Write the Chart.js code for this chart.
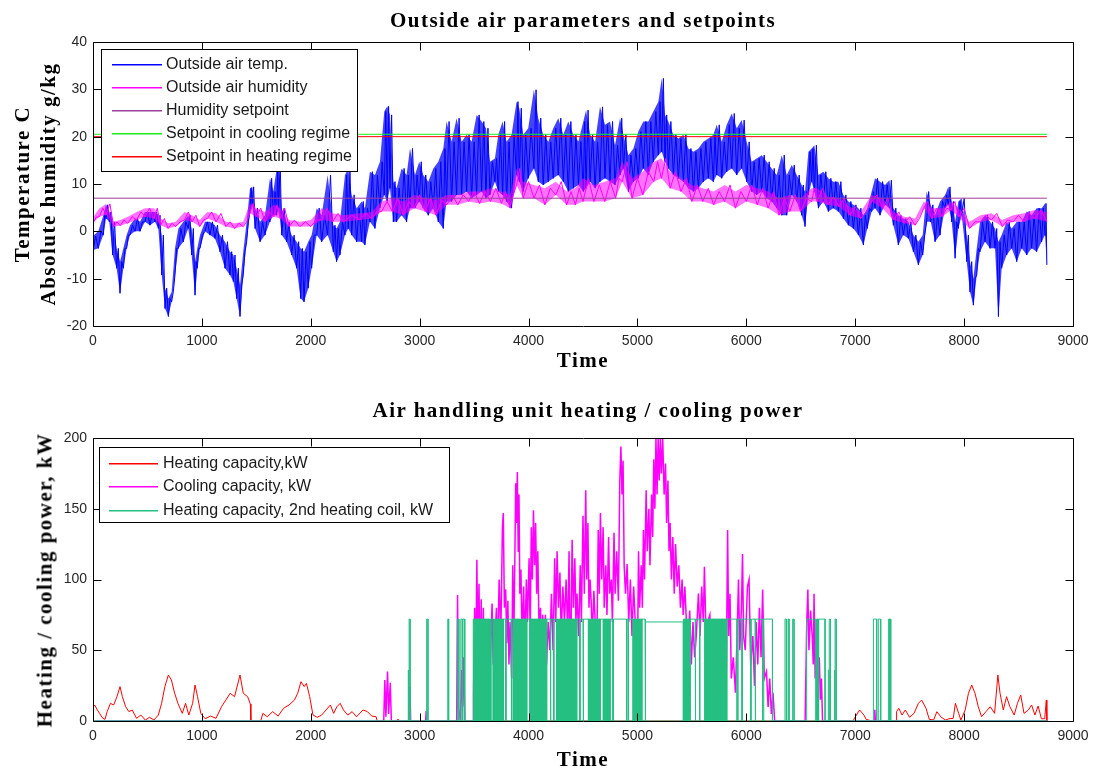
<!DOCTYPE html>
<html>
<head>
<meta charset="utf-8">
<script src="https://cdn.jsdelivr.net/npm/chart.js@4.4.0/dist/chart.umd.min.js"></script>
<style>
  html, body { margin: 0; padding: 0; background: #fff; }
  #wrap { position: relative; width: 1098px; height: 772px; background: #fff; overflow: hidden; }
  canvas { position: absolute; left: 0; }
  .t { position: absolute; transform: translate(-50%, -50%); font: bold 21px "Liberation Serif", "Times New Roman", serif;
       letter-spacing: 1.5px; white-space: nowrap; color: #000; line-height: 1; }
  .r { transform: translate(-50%, -50%) rotate(-90deg); }
</style>
</head>
<body>
<div id="wrap">
  <canvas id="c1" width="1098" height="386" style="top:0"></canvas>
  <canvas id="c2" width="1098" height="386" style="top:386px"></canvas>
  <div class="t" style="left:583px;top:20px">Outside air parameters and setpoints</div>
  <div class="t" style="left:583px;top:360px">Time</div>
  <div class="t r" style="left:22px;top:184px">Temperature C</div>
  <div class="t r" style="left:48px;top:184px">Absolute humidity g/kg</div>
  <div class="t" style="left:588px;top:410px">Air handling unit heating / cooling power</div>
  <div class="t" style="left:583px;top:759px">Time</div>
  <div class="t r" style="left:45px;top:580px">Heating / cooling power, kW</div>
</div>
<script>
// ---------------- tick labels ----------------
const xTickValues = [0,1000,2000,3000,4000,5000,6000,7000,8000,9000];
const yTicksTop = [-20,-10,0,10,20,30,40];
const yTicksBottom = [0,50,100,150,200];

// ---------------- top chart: outside air temperature (low / high read per time window) ----------------
const tempTime = [
  0,49,95,120,150,180,217,248,279,309,
  340,386,432,477,523,569,600,631,661,692,
  722,753,784,830,875,906,937,958,983,1028,
  1074,1120,1166,1212,1258,1289,1319,1350,1380,1411,
  1442,1463,1488,1534,1580,1625,1656,1687,1705,1733,
  1778,1824,1870,1907,1938,1977,2008,2054,2100,2155,
  2207,2237,2268,2314,2344,2375,2421,2467,2497,2543,
  2589,2635,2675,2702,2727,2758,2788,2834,2880,2911,
  2957,2996,3033,3079,3125,3171,3217,3247,3293,3339,
  3385,3431,3477,3523,3569,3609,3645,3691,3722,3762,
  3798,3844,3890,3915,3951,3997,4049,4089,4135,4181,
  4227,4273,4319,4365,4412,4458,4503,4528,4565,4611,
  4656,4702,4748,4794,4840,4871,4917,4963,5008,5054,
  5100,5146,5192,5223,5253,5284,5330,5376,5422,5468,
  5514,5560,5605,5651,5697,5728,5774,5820,5866,5912,
  5957,6003,6049,6095,6141,6187,6233,6279,6325,6371,
  6417,6463,6508,6539,6570,6600,6625,6662,6707,6753,
  6799,6845,6891,6937,6983,7029,7075,7111,7151,7182,
  7228,7274,7314,7350,7396,7442,7488,7534,7580,7620,
  7656,7693,7733,7779,7825,7855,7886,7917,7947,7978,
  8024,8054,8085,8116,8146,8192,8238,8284,8315,8345,
  8391,8437,8483,8529,8575,8620,8666,8712,8743,8760
];
const tempLow = [
  -4,-3.6,-0.8,2.7,2,-5,-7.8,-13.1,-7.8,-3.6,
  -0.8,0,0,2,1.3,2,0.6,-9.2,-16.3,-18,
  -14.9,-9.2,-3.6,-2.2,0.6,-5,-13.5,-7.8,-3.6,0,
  -0.8,-1.5,-4.3,-7.8,-9.2,-10.6,-14.2,-18,-9.2,-2.2,
  4.2,5.6,0.6,-2.2,-0.8,2,3.4,3.4,4.9,-0.8,
  -2.2,-5,-7.8,-14.2,-14.9,-12,-7.8,-0.8,-2.2,-0.8,
  -4.3,-6.4,-5,-0.8,0.6,-0.8,-2.2,-2.2,-2.9,2,
  0.6,4.9,7.7,6.3,9.1,2,2,3.4,2,4.9,
  4.9,6.3,4.9,3.4,4.9,2,0.6,6.3,6.3,7.7,
  7.7,8.4,7,7.7,8.4,7,7.7,10.5,8.4,7.7,
  6.3,4.9,11.9,10.5,8.4,11.2,13.3,10.5,9.8,10.5,
  11.2,11.9,10.5,8.4,9.1,9.8,8.4,9.1,10.5,9.1,
  10.5,11.2,10.5,9.8,11.9,13.3,8.4,10.5,11.2,13.3,
  11.9,14.7,16.1,16.8,14.7,13.3,11.9,11.2,10.5,9.1,
  8.4,9.1,10.5,11.2,10.5,11.9,11.2,12.6,13.3,11.9,
  13.3,10.5,8.4,7.7,8.4,7,6.3,4.9,3.4,3.4,
  7.7,6.3,3.4,1,7.7,10.5,8.4,4.9,6.3,4.2,
  4.9,4.2,2.7,1.3,0.6,-0.8,-2.9,0.6,4.2,4.9,
  3.4,5.6,4.9,1.3,-2.9,-0.8,-1.5,-4.3,-7.1,-5,
  2,2,-2.2,-0.8,4.9,5.6,2,-5.7,0.6,3.4,
  -6.4,-12.8,-15.6,-9.2,-4.3,-2.2,-3.6,-3.6,-18,-7.8,
  -5,-3.6,-6.4,-3.6,-5,-3.6,-4.3,-2.2,-0.8,-7.1
];
const tempHigh = [
  -1,0,3.4,5.6,4.1,2,-3.6,-6.4,-3.6,-0.8,
  1.3,2.7,2,4.1,4.1,4.1,3.4,-0.8,-12,-14.2,
  -12.8,-3.6,0.6,2,3.4,0.6,-6.4,-3.6,-0.8,2,
  2,1.3,-0.8,-2.2,-4.3,-5,-7.8,-11.4,-4.3,2,
  9.1,9.4,4.9,2,3.4,11.2,8.4,13.3,14.7,4.9,
  2,-0.8,-2.2,-3.6,-4.3,-2.2,-0.8,4.9,3.4,11.9,
  1.3,0.6,2,11.9,13.3,7.7,4.9,6.3,4.9,12.6,
  11.9,14.7,25.3,26.4,24.6,10.5,9.1,13.3,11.9,17.5,
  11.9,14.7,11.9,10.5,13.3,14.7,17.5,23.2,18.9,23.9,
  18.9,20.4,18.9,24.6,23.2,21.8,14.7,15.4,20.4,23.2,
  18.9,20.4,27.4,26,20.4,21.8,29.9,23.9,20.4,18.9,
  21.8,23.9,20.4,23.2,20.4,19,23.2,25.6,20.4,18.9,
  26.3,22.5,23.2,18.2,23.9,20.4,16.1,17.5,21.1,23.2,
  23.2,25.3,27.4,32.3,24.6,23.2,20.4,19.6,20.4,17.5,
  16.8,17.5,18.9,19.6,20.4,22.5,18.9,22.5,24.9,21.8,
  23.5,18.9,14.7,15.4,16.1,14.7,13.3,11.9,16.1,11.9,
  14,11.9,9.8,8.4,16.8,17.5,18.2,11.9,12.6,11.2,
  10.5,10.5,7.7,6.3,5.6,4.9,3.4,4.9,8.4,11.2,
  10.5,9.8,10.8,4.9,3.4,2.7,2,-0.8,-2.2,-0.8,
  8.4,5.6,3.4,6.3,7.7,9.4,6.3,2,6.3,7,
  -0.8,-6.4,-10,-3.6,2,3.4,2,0.6,-2.2,-0.8,
  2,0.6,2,2,4.2,3.4,4.9,4.9,5.9,-0.8
];

// ---------------- top chart: outside air humidity (low / high per time window) ----------------
const humTime = [
  0,60,120,190,250,320,400,480,560,620,
  690,760,840,910,980,1050,1130,1220,1300,1380,
  1440,1500,1580,1660,1720,1800,1900,2000,2100,2200,
  2300,2450,2560,2650,2750,2850,2950,3050,3150,3250,
  3350,3450,3550,3650,3750,3830,3890,3950,4050,4150,
  4250,4350,4430,4500,4600,4700,4800,4860,4950,5050,
  5150,5220,5300,5400,5500,5600,5700,5800,5900,6000,
  6100,6200,6300,6400,6500,6600,6650,6750,6850,6950,
  7050,7150,7250,7350,7450,7550,7630,7700,7800,7880,
  7950,8050,8150,8250,8350,8450,8550,8650,8760
];
const humLow = [
  1.8,3.1,3.5,1,1.2,1.7,2.4,3.1,2.7,1.3,
  0.6,1,2.4,2,1,2.7,2,1,0.6,1,
  3.8,3.1,2,3.1,2.7,1,1,1,2.4,2,
  2,2.4,2.7,4.2,4.2,3.4,4.9,4.2,3.4,5.6,
  5.6,6.3,5.9,6.3,5.9,4.9,9.8,7,7,5.6,
  7.7,5.6,5.6,6.3,6.3,6.3,7,10.5,7,7.7,
  10.5,11.2,9.1,8.4,6.3,6.3,5.6,6.3,4.9,6.3,
  5.6,4.9,3.4,4.2,4.2,6.3,6.3,5.6,5.2,3.4,
  2.7,6.3,4.9,2.4,1.7,1.3,4.9,2.7,3.1,4.5,
  3.1,0.6,2,2.4,1,2,2,2.7,2
];
const humHigh = [
  3,4.9,5.8,2,2.4,3.1,4.1,4.9,4.9,2.7,
  1.7,2,4.1,3.4,2.4,4.1,3.8,2,1.7,2,
  5.9,4.9,4.1,5.6,4.9,2.4,2,2.4,4.9,3.8,
  3.4,3.8,4.1,6.3,7,6.3,7.7,7,6.6,7.7,
  7.7,8.4,8.4,9.1,8.4,7.7,13.3,10.5,9.8,9.1,
  10.5,8.4,9.1,11.2,9.8,10.5,11.2,14.7,11.2,12.6,
  14.7,15.4,12.6,11.2,9.8,9.1,8.4,9.8,8.4,9.8,
  9.1,8.4,7,7.7,7,9.1,9.1,7.3,7,5.2,
  4.1,7.7,7,4.1,3.1,2.7,6.3,4.9,4.9,6.3,
  4.9,2,3.4,3.8,2.4,3.4,3.8,4.5,4.1
];

// ---------------- setpoints ----------------
const setpointTime = [0, 8760];
const humiditySetpoint = [7, 7];
const coolingSetpoint = [20.5, 20.5];
const heatingSetpoint = [20, 20];

// ---------------- bottom chart: heating capacity ----------------
const heatTime = [
  0,15,40,60,90,110,130,160,190,220,
  248,270,300,330,360,400,440,480,520,560,
  600,630,660,692,720,750,780,820,850,880,
  915,937,960,990,1030,1080,1130,1180,1220,1260,
  1300,1350,1380,1420,1445,1450,1540,1560,1600,1650,
  1700,1750,1800,1850,1880,1910,1940,1960,1990,2020,
  2060,2100,2140,2180,2210,2240,2270,2300,2340,2380,
  2420,2480,2520,2560,2600,2610,2795,2800,2805,6985,
  6990,7040,7080,7100,7150,7375,7380,7400,7430,7460,
  7500,7540,7580,7610,7650,7680,7720,7750,7790,7830,
  7860,7900,7920,7950,7970,8010,8040,8070,8100,8130,
  8160,8200,8240,8280,8310,8330,8360,8390,8420,8460,
  8490,8520,8550,8590,8620,8650,8680,8710,8740,8755,
  8760
];
const heatValue = [
  10,11.3,7.8,5.4,1.9,1.2,6.6,12.5,11.3,17.2,
  24.3,17.2,10.1,6.6,7.8,1.9,4.2,0.7,2.6,0.7,
  4.2,12.5,24.3,32.5,29,19.6,12.5,5.4,12.5,4.2,
  12.5,25.4,17.2,5.4,1.6,3.5,1.9,10.1,14.8,19.6,
  17.2,32.5,19.6,17.2,12,0,0,5.4,3,6.6,
  3.5,9,11.3,14.8,19.6,27.8,24.3,26.6,17.2,4.2,
  2.6,4.2,7.8,11.3,5.4,10.1,12.5,7.8,4.2,6.6,
  3,7.8,6.6,3.5,3,0,0,1.4,0,0,
  1.6,7.8,4.2,1.2,0,0,6.6,9,4.2,7.8,
  2.6,5.4,12.5,14.8,9,1.2,0.7,6.6,2.6,0.7,
  1.6,1.9,12.5,5.4,0.7,7.8,19.6,25.4,19.6,10.1,
  3,6.6,10.1,5.4,32.5,19.6,7.8,17.2,10.1,4.2,
  12.5,18.4,5.4,7.8,11.3,4.2,10.6,1.6,1.6,14.8,
  0
];

// ---------------- bottom chart: cooling capacity ----------------
const coolTime = [
  0,2670,2680,2690,2705,2715,2730,2740,2905,2911,
  2917,3055,3060,3065,3340,3348,3355,3375,3385,3395,
  3405,3415,3490,3495,3505,3515,3525,3535,3545,3555,
  3565,3575,3585,3595,3610,3620,3640,3650,3665,3675,
  3690,3705,3715,3730,3745,3760,3768,3778,3790,3800,
  3810,3820,3830,3845,3855,3865,3875,3882,3890,3897,
  3905,3912,3920,3930,3940,3955,3965,3980,3990,4005,
  4015,4025,4035,4045,4055,4065,4075,4085,4095,4110,
  4120,4130,4140,4155,4165,4180,4195,4210,4225,4240,
  4250,4262,4275,4288,4300,4315,4330,4345,4360,4372,
  4385,4390,4400,4412,4425,4435,4445,4460,4475,4485,
  4500,4512,4525,4535,4545,4555,4565,4575,4585,4600,
  4612,4625,4640,4650,4660,4672,4685,4695,4710,4720,
  4735,4745,4760,4770,4785,4795,4810,4825,4838,4848,
  4858,4868,4878,4890,4905,4920,4935,4950,4965,4980,
  4995,5010,5020,5035,5045,5055,5065,5080,5090,5105,
  5115,5130,5140,5150,5160,5170,5180,5190,5200,5210,
  5220,5232,5245,5258,5268,5280,5290,5300,5312,5325,
  5338,5350,5365,5380,5395,5410,5420,5435,5450,5465,
  5480,5495,5510,5525,5540,5560,5575,5590,5605,5615,
  5630,5645,5665,5680,5695,5710,5725,5740,5760,5780,
  5800,5815,5828,5838,5850,5862,5880,5900,5915,5928,
  5940,5955,5965,5975,5990,6010,6025,6040,6060,6075,
  6090,6105,6120,6135,6150,6165,6185,6200,6215,6230,
  6245,6260,6540,6555,6565,6575,6590,6605,6615,6622,
  6632,6645,6655,6670,6680,6690,6700,7175,7180,7185,
  8760
];
const coolValue = [
  0,0,29,3,35,5,27,0,0,24,
  0,0,7,0,0,89,10,0,36,10,
  45,0,0,20,80,30,114,50,97,20,
  86,30,80,10,70,40,60,45,83,40,
  55,80,45,100,60,137,147,80,93,55,
  85,40,70,30,110,60,120,168,140,176,
  120,160,90,107,60,95,50,100,70,115,
  60,137,100,149,110,140,90,120,70,80,
  40,75,55,75,40,70,50,90,50,115,
  70,120,80,105,60,95,70,100,60,120,
  20,60,128,80,115,70,90,60,110,70,
  145,90,163,100,140,80,100,85,60,92,
  70,40,135,90,147,100,137,80,110,75,
  130,90,100,70,133,90,120,85,170,194,
  160,184,110,90,111,70,100,60,95,70,
  5,120,80,110,80,135,100,163,120,150,
  110,160,130,185,150,200,160,200,170,200,
  175,200,160,182,140,170,120,140,100,130,
  90,125,95,110,80,100,75,95,70,50,
  78,40,70,45,60,90,60,95,70,109,
  60,70,75,40,70,50,60,30,55,20,
  45,25,135,60,90,30,45,20,60,100,
  50,80,118,60,50,95,100,40,60,25,
  70,40,80,45,93,30,35,10,30,5,
  20,0,0,70,93,50,78,60,40,90,
  30,70,20,45,15,30,0,0,8,0,
  0
];

// ---------------- bottom chart: 2nd heating coil (on intervals, kW level) ----------------
const coilStart = [2893,2903,3064,3258,3346,3378,3398,3640,3656,3768,3795,3845,3983,4166,4205,4235,
  4442,4475,4505,4657,4748,4780,4905,4920,5040,5075,5483,5535,5575,5820,5925,5965,6045,6085,6160,
  6355,6383,6425,6554,6665,6753,6762,6808,6815,7167,7212];
const coilEnd = [2898,2912,3076,3266,3360,3392,3414,3652,3676,3790,3840,3860,4013,4200,4230,4258,
  4470,4500,4550,4687,4775,4900,4915,4960,5070,5422,5530,5570,5620,5915,5960,6040,6080,6150,6240,
  6368,6392,6438,6640,6723,6760,6772,6813,6825,7197,7234];
const coilLevel = [36,72,72,72,72,72,72,72,72,72,72,72,72,72,72,72,
  72,72,72,72,72,72,72,72,72,70,72,72,72,72,72,72,72,72,72,
  72,72,72,72,72,36,72,36,72,72,72];
// periods of very rapid on/off switching (appear solid)
const coilBlockStart = [3492,3676,3860,4013,4258,4550,4687,4963,5422,5620,6645,7307];
const coilBlockEnd   = [3640,3768,3983,4166,4442,4657,4748,5040,5483,5820,6662,7326];
const coilBlockLevel = 72;

// ---------------- helpers ----------------
const pts = (xs, ys) => xs.map((x, i) => ({x, y: ys[i]}));
// trace through each window: low at the window start, high half-way through the window
function swing(times, lows, highs) {
  const p = [];
  times.forEach((t, i) => {
    const next = i < times.length - 1 ? times[i + 1] : t;
    p.push({x: t, y: lows[i]});
    if (next > t) p.push({x: (t + next) / 2, y: highs[i]});
  });
  return p;
}
function pulses(starts, ends, levels) {
  const p = [{x: 0, y: 0}];
  starts.forEach((s, i) => {
    const L = Array.isArray(levels) ? levels[i] : levels;
    p.push({x: s, y: 0}, {x: s, y: L}, {x: ends[i], y: L}, {x: ends[i], y: 0});
  });
  p.push({x: 8760, y: 0});
  return p;
}

const tickFont = {family: '"Liberation Sans", Arial, sans-serif', size: 14};
const tickColor = '#262626';

const boxPlugin = {
  id: 'frameTicks',
  afterDatasetsDraw(chart) {
    const {ctx, chartArea: a, scales: {x, y}} = chart;
    const L = 8;
    ctx.save();
    ctx.strokeStyle = '#000';
    ctx.lineWidth = 1;
    const l = Math.round(a.left) + 0.5, r = Math.round(a.right) + 0.5;
    const t = Math.round(a.top) + 0.5, b = Math.round(a.bottom) + 0.5;
    ctx.beginPath();
    ctx.rect(l, t, r - l, b - t);
    x.ticks.forEach(tk => {
      const px = Math.round(x.getPixelForValue(tk.value)) + 0.5;
      ctx.moveTo(px, b); ctx.lineTo(px, b - L);
      ctx.moveTo(px, t); ctx.lineTo(px, t + L);
    });
    y.ticks.forEach(tk => {
      const py = Math.round(y.getPixelForValue(tk.value)) + 0.5;
      ctx.moveTo(l, py); ctx.lineTo(l + L, py);
      ctx.moveTo(r, py); ctx.lineTo(r - L, py);
    });
    ctx.stroke();
    ctx.restore();
  }
};

const boxLegend = {
  id: 'boxLegend',
  afterDatasetsDraw(chart, args, o) {
    if (!o || !o.items) return;
    const ctx = chart.ctx;
    ctx.save();
    ctx.fillStyle = '#fff';
    ctx.fillRect(o.left, o.top, o.width, o.height);
    ctx.strokeStyle = '#000';
    ctx.lineWidth = 1;
    ctx.strokeRect(o.left + 0.5, o.top + 0.5, o.width, o.height);
    ctx.font = '16px "Liberation Sans", Arial, sans-serif';
    ctx.textBaseline = 'middle';
    ctx.textAlign = 'left';
    o.items.forEach((di, i) => {
      const ds = chart.data.datasets[di];
      const y = Math.round(o.top + o.first + i * o.row);
      ctx.fillStyle = ds.borderColor;
      ctx.fillRect(o.lineX1, y, o.lineX2 - o.lineX1, 1.5);
      ctx.fillStyle = '#1a1a1a';
      ctx.fillText(ds.label, o.textX, y + 1);
    });
    ctx.restore();
  }
};

function makeOptions(cfg) {
  return {
    responsive: false,
    animation: false,
    devicePixelRatio: 1,
    layout: {padding: {top: cfg.padTop, right: 25, left: 0, bottom: 0}},
    plugins: {
      legend: {display: false},
      tooltip: {enabled: false},
      title: {display: false},
      boxLegend: cfg.legend
    },
    elements: {point: {radius: 0, hitRadius: 0}, line: {borderWidth: 1, tension: 0}},
    scales: {
      x: {
        type: 'linear', min: 0, max: 9000,
        grid: {display: false, drawTicks: false},
        border: {display: false},
        afterBuildTicks: s => { s.ticks = xTickValues.map(v => ({value: v})); },
        afterFit: s => { s.height = cfg.xAxisH; },
        ticks: {padding: 7, font: tickFont, color: tickColor, maxRotation: 0, autoSkip: false, callback: v => String(v)}
      },
      y: {
        type: 'linear', min: cfg.ymin, max: cfg.ymax,
        grid: {display: false, drawTicks: false},
        border: {display: false},
        afterBuildTicks: s => { s.ticks = cfg.yTicks.map(v => ({value: v})); },
        afterFit: s => { s.width = 93; },
        ticks: {padding: 6, font: tickFont, color: tickColor, autoSkip: false, callback: v => String(v)}
      }
    }
  };
}

// ---------------- top chart ----------------
new Chart(document.getElementById('c1'), {
  type: 'line',
  data: {
    datasets: [
      {label: 'Outside air temp.', data: swing(tempTime, tempLow, tempHigh), borderColor: '#0000ff', order: 9},
      {label: 'temp range high', data: pts(tempTime, tempHigh), borderColor: 'rgba(0,0,255,0)', borderWidth: 0,
       backgroundColor: 'rgba(20,20,255,0.8)', fill: '+1', order: 10},
      {label: 'temp range low', data: pts(tempTime, tempLow), borderColor: 'rgba(0,0,255,0)', borderWidth: 0, fill: false, order: 10},
      {label: 'Outside air humidity', data: swing(humTime, humLow, humHigh), borderColor: '#ff00ff', order: 5},
      {label: 'humidity range high', data: pts(humTime, humHigh), borderColor: 'rgba(255,0,255,0)', borderWidth: 0,
       backgroundColor: 'rgba(255,0,255,0.55)', fill: '+1', order: 6},
      {label: 'humidity range low', data: pts(humTime, humLow), borderColor: 'rgba(255,0,255,0)', borderWidth: 0, fill: false, order: 6},
      {label: 'Humidity setpoint', data: pts(setpointTime, humiditySetpoint), borderColor: '#9b3f9b', order: 3},
      {label: 'Setpoint in cooling regime', data: pts(setpointTime, coolingSetpoint), borderColor: '#1aee1a', order: 2},
      {label: 'Setpoint in heating regime', data: pts(setpointTime, heatingSetpoint), borderColor: '#ff0000', order: 1}
    ]
  },
  options: makeOptions({
    padTop: 42, xAxisH: 60, ymin: -20, ymax: 40, yTicks: yTicksTop,
    legend: {items: [0, 3, 6, 7, 8], left: 101, top: 49, width: 256, height: 122, first: 15, row: 23.1,
             lineX1: 112, lineX2: 162, textX: 166}
  }),
  plugins: [boxPlugin, boxLegend]
});

// ---------------- bottom chart ----------------
new Chart(document.getElementById('c2'), {
  type: 'line',
  data: {
    datasets: [
      {label: 'Heating capacity,kW', data: pts(heatTime, heatValue), borderColor: '#ff0000', order: 5},
      {label: 'Cooling capacity, kW', data: pts(coolTime, coolValue), borderColor: '#ff00ff', borderWidth: 1.5, order: 4},
      {label: 'Heating capacity, 2nd heating coil, kW', data: pulses(coilStart, coilEnd, coilLevel),
       borderColor: '#26bf82', order: 1},
      {label: 'coil blocks', data: pulses(coilBlockStart, coilBlockEnd, coilBlockLevel),
       borderColor: '#26bf82', backgroundColor: '#26bf82', fill: 'origin', order: 2}
    ]
  },
  options: makeOptions({
    padTop: 52, xAxisH: 51, ymin: 0, ymax: 200, yTicks: yTicksBottom,
    legend: {items: [0, 1, 2], left: 99, top: 61, width: 350, height: 75, first: 15.5, row: 23.6,
             lineX1: 109, lineX2: 158, textX: 163}
  }),
  plugins: [boxPlugin, boxLegend]
});
</script>
</body>
</html>
